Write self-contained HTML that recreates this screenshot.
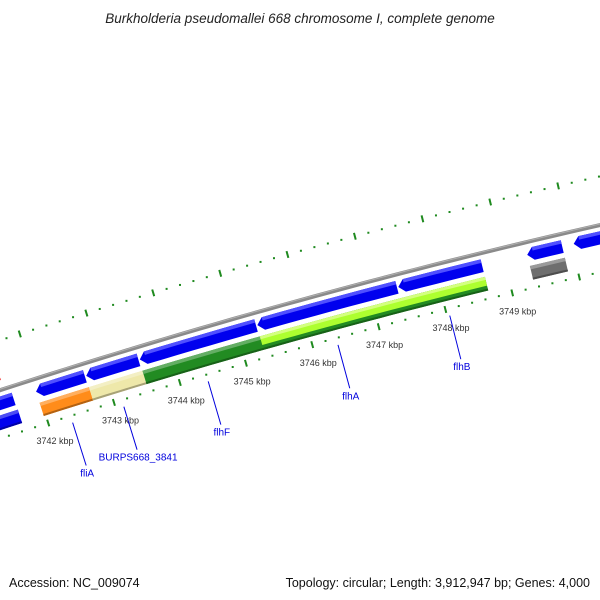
<!DOCTYPE html>
<html><head><meta charset="utf-8"><style>
html,body{margin:0;padding:0;background:#fff;}
svg{display:block;font-family:"Liberation Sans",sans-serif;}
</style></head><body>
<svg id="map" width="600" height="600" viewBox="0 0 600 600">
<text x="300" y="23" text-anchor="middle" font-size="13.5" font-style="italic" fill="#222">Burkholderia pseudomallei 668 chromosome I, complete genome</text>
<text x="9" y="587" font-size="12.5" fill="#111">Accession: NC_009074</text>
<text x="590" y="587" text-anchor="end" font-size="12.5" fill="#111">Topology: circular; Length: 3,912,947 bp; Genes: 4,000</text>
<g id="plot"></g>
</svg>
<script>
// ---- data (kbp) ----
const majorTicks = [3741,3742,3743,3744,3745,3746,3747,3748,3749,3750,3751];
const tickLabels = ["3742 kbp","3743 kbp","3744 kbp","3745 kbp","3746 kbp","3747 kbp","3748 kbp","3749 kbp"];
const tickLabelPos = [3742,3743,3744,3745,3746,3747,3748,3749];
const strandGeneStarts = [3740.3,3741.97,3742.73,3743.54,3745.31,3747.42,3749.34,3750.03];
const strandGeneEnds   = [3741.63,3742.71,3743.52,3745.29,3747.40,3748.67,3749.86,3751.2];
const cogStarts = [3740.3,3741.97,3742.72,3743.53,3749.34];
const cogEnds   = [3741.64,3742.72,3743.53,3748.67,3749.86];
const cogColors = ["#0000ee","#ff8c1a","#eee8aa","#228b22","#6e6e6e"];
const lightStarts = [3745.30];
const lightEnds = [3748.67];
const geneNames = ["fliA","BURPS668_3841","flhF","flhA","flhB"];
const geneNamePos = [3742.34,3743.12,3744.40,3746.36,3748.04];
const markerPos = [3741.45];

// ---- geometry ----
const CX=2109.6, CY=6881, R0=6779;
const th0=Math.atan2(423.3-CY,48.3-CX);
const th1=Math.atan2(277.3-CY,579.3-CX);
const dth=(th1-th0)/8;
function P(k,v){const t=th0+(k-3742)*dth;const r=R0+v;return [CX+r*Math.cos(t),CY+r*Math.sin(t)];}
const NS="http://www.w3.org/2000/svg";
const plot=document.getElementById('plot');
function mk(tag,attrs){const e=document.createElementNS(NS,tag);for(const a in attrs)e.setAttribute(a,attrs[a]);plot.appendChild(e);return e;}
function arcPts(k0,k1,v){const n=Math.max(2,Math.ceil(Math.abs(k1-k0)*4));const pts=[];for(let i=0;i<=n;i++){pts.push(P(k0+(k1-k0)*i/n,v));}return pts;}
function band(k0,k1,vb,vt){return arcPts(k0,k1,vt).concat(arcPts(k1,k0,vb)).map(p=>p.join(',')).join(' ');}
function arrowLeft(k0,k1,vb,vt){const h=0.09;const vm=(vb+vt)/2;
 const pts=[P(k0,vm)].concat(arcPts(k0+h,k1,vt)).concat(arcPts(k1,k0+h,vb));return pts.map(p=>p.join(',')).join(' ');}

// backbone
let bb=mk('polyline',{points:arcPts(3740,3752,46).map(p=>p.join(',')).join(' '),fill:'none',stroke:'#8a8a8a','stroke-width':4});


let bbh=mk('polyline',{points:arcPts(3740,3752,47).map(p=>p.join(',')).join(' '),fill:'none',stroke:'#b0b0b0','stroke-width':1});



// tick tracks
[0,93.5].forEach((tv,ti)=>{
 for(let k=3740;k<=3751.5;k+=0.2){
  const kk=Math.round(k*10)/10;
  const isMajor=majorTicks.some(m=>Math.abs(m-kk)<1e-6);
  if(isMajor){const a=P(kk,tv-3.5),b=P(kk,tv+3.5);
   const l=mk('line',{x1:a[0],y1:a[1],x2:b[0],y2:b[1],stroke:'#1f8a1f','stroke-width':2});
   
   
  } else {const c=P(kk,tv);
   const d=mk('rect',{x:c[0]-1,y:c[1]-1,width:2,height:2,fill:'#1f8a1f'});
   
   
  }
 }
});

// tick labels
tickLabels.forEach((t,i)=>{const c=P(tickLabelPos[i],-19);
 const e=mk('text',{x:c[0]+1,y:c[1]+3,'text-anchor':'middle','font-size':'9',fill:'#333'});e.textContent=t;
 
 
});

// strand genes (blue arrows)
strandGeneStarts.forEach((s,i)=>{
 const g=mk('polygon',{points:arrowLeft(s,strandGeneEnds[i],27,40),fill:'#0000ee'});
 
 
 const hl=mk('polygon',{points:band(s+0.09,strandGeneEnds[i],36.5,40),fill:'#5050ff'});
 
 
});

// COG bars
function shade(c,f){const n=parseInt(c.slice(1),16);let r=n>>16,g=(n>>8)&255,b=n&255;
 const m=x=>Math.max(0,Math.min(255,Math.round(f>1?x+(255-x)*(f-1):x*f)));return 'rgb('+m(r)+','+m(g)+','+m(b)+')';}
cogStarts.forEach((s,i)=>{const e=cogEnds[i];const c=cogColors[i];
 const g=mk('polygon',{points:band(s,e,8,22),fill:c});
 
 
 const t=mk('polygon',{points:band(s,e,18.5,22),fill:shade(c,1.3)});
 
 
 const b=mk('polygon',{points:band(s,e,8,10),fill:shade(c,0.7)});
 
 
});
lightStarts.forEach((s,i)=>{
 const g=mk('polygon',{points:band(s,lightEnds[i],13,22),fill:'#adff2f'});
 
 
 const t=mk('polygon',{points:band(s,lightEnds[i],19,22),fill:'#d4ff80'});
 
 
});

// red marker
markerPos.forEach(k=>{const pts=[P(k,52),P(k-0.09,56),P(k-0.08,64),P(k+0.08,64),P(k+0.09,56)];
 const m=mk('polygon',{points:pts.map(p=>p.join(',')).join(' '),fill:'#ee0000'});
 
 
});

// gene name labels
geneNames.forEach((n,i)=>{const a=P(geneNamePos[i],-7),b=P(geneNamePos[i],-52);
 const l=mk('line',{x1:a[0],y1:a[1],x2:b[0],y2:b[1],stroke:'#0000dd','stroke-width':1});
 
 
 const t=mk('text',{x:b[0]+1,y:b[1]+11,'text-anchor':'middle','font-size':'10',fill:'#0000dd'});t.textContent=n;
 
 
});
</script>
</body></html>
